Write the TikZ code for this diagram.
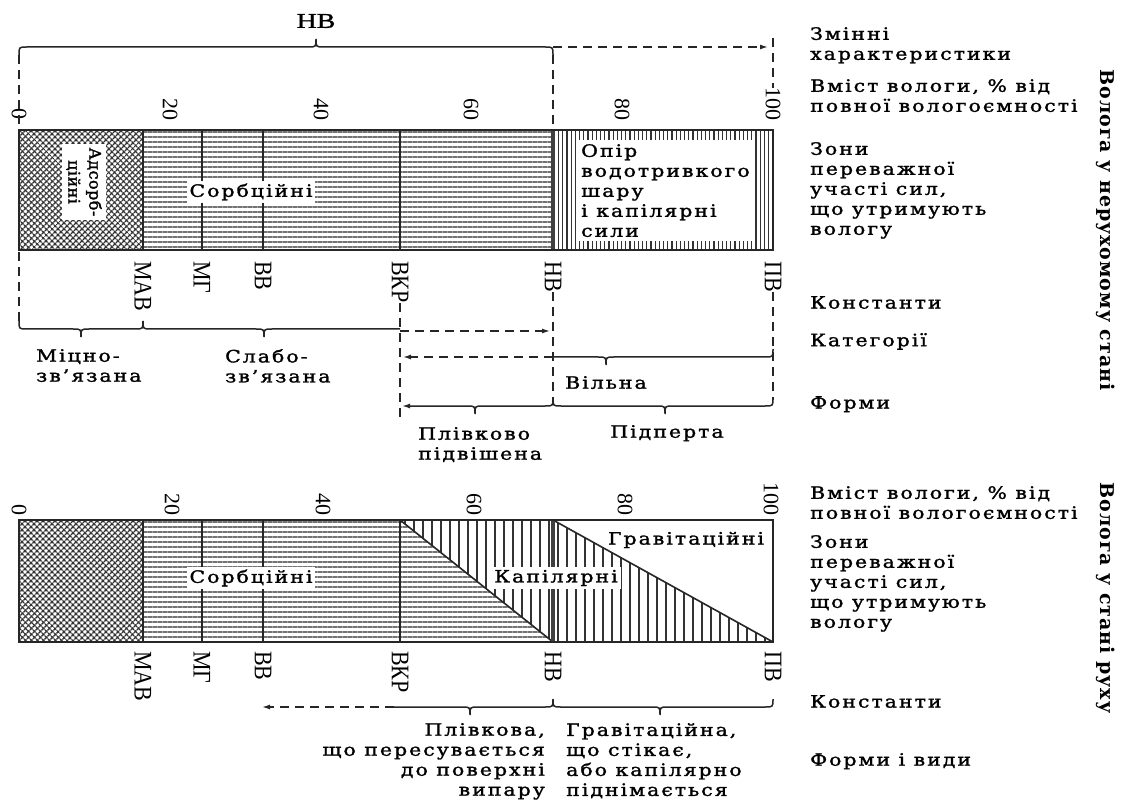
\documentclass[tikz,border=0pt]{standalone}
\usepackage{fontspec}
\usepackage{graphicx}
\setmainfont{DejaVu Serif}[FakeStretch=1.2, LetterSpace=12, FakeBold=1.6]
\newfontfamily\numf{Liberation Serif}
\newfontfamily\numwide{Liberation Serif}[FakeStretch=1.33, FakeBold=1.2]
\newfontfamily\rotf{DejaVu Serif}[LetterSpace=3, FakeBold=1.6]
\newfontfamily\sidef{DejaVu Serif}[LetterSpace=5]
\usetikzlibrary{patterns.meta,arrows.meta}
\tikzset{
  lbl/.style={font=\fontsize{17}{20}\selectfont, align=left, anchor=north west, inner sep=0pt},
  zonelbl/.style={font=\fontsize{17}{20}\selectfont, fill=white, inner sep=3pt, align=left},
  numlbl/.style={font=\numf\fontsize{22}{22}\selectfont, rotate=-90, anchor=east, inner sep=0pt},
  constlbl/.style={font=\numf\fontsize{22}{22}\selectfont, rotate=-90, anchor=west, inner sep=0pt},
  sidelbl/.style={font=\sidef\bfseries\fontsize{19}{19}\selectfont, rotate=-90, inner sep=0pt},
  frame/.style={line width=1.6pt, black!85},
  divline/.style={line width=1.6pt, black!85},
  thickdiv/.style={line width=3.5pt, black!75},
  dline/.style={line width=1.4pt, dash pattern=on 9pt off 6pt, black!85},
  brc/.style={line width=1.5pt, black!85},
  arr/.style={-{Latex[length=8pt,width=5pt]}},
  xhatch/.style={pattern={Lines[angle=45,distance=4pt,line width=1.4pt]}, pattern color=black!80},
  xhatchb/.style={pattern={Lines[angle=-45,distance=4pt,line width=1.4pt]}, pattern color=black!80},
  hlines/.style={pattern={Lines[angle=0,distance=5pt,line width=2pt]}, pattern color=black!55},
  vlinesd/.style={pattern={Lines[angle=90,distance=4.2pt,line width=1.2pt]}, pattern color=black!80},
  vliness/.style={pattern={Lines[angle=90,distance=9pt,line width=1.5pt]}, pattern color=black!80},
}
\newcommand\tallc[1]{\scalebox{1}[1.15]{#1}}
\newcommand\brdown[4]{% x1, xtip, x2, yflat : tip down, ends up
  \draw[brc] (#1,#4-8) .. controls (#1,#4) .. (#1+8,#4) -- (#2-8,#4) .. controls (#2,#4) .. (#2,#4+8) .. controls (#2,#4) .. (#2+8,#4) -- (#3-8,#4) .. controls (#3,#4) .. (#3,#4-8);}
\newcommand\brup[4]{% x1, xtip, x2, yflat : tip up, ends down
  \draw[brc] (#1,#4+8) .. controls (#1,#4) .. (#1+8,#4) -- (#2-8,#4) .. controls (#2,#4) .. (#2,#4-8) .. controls (#2,#4) .. (#2+8,#4) -- (#3-8,#4) .. controls (#3,#4) .. (#3,#4+8);}
\begin{document}
\begin{tikzpicture}[x=1pt,y=-1pt]
\useasboundingbox[fill=white] (0,0) rectangle (1125,802);

% ================= TOP BAR =================
\fill[xhatch] (19,130) rectangle (143,250);
\fill[xhatchb] (19,130) rectangle (143,250);
\fill[hlines] (143,130) rectangle (553,250);
\fill[vlinesd] (553,130) rectangle (773,250);
\draw[divline] (143,130) -- (143,250);
\draw[divline] (202,130) -- (202,250);
\draw[divline] (263,130) -- (263,250);
\draw[divline] (400,130) -- (400,250);
\draw[thickdiv] (553,130) -- (553,250);
\draw[frame] (19,130) rectangle (773,250);

\node[zonelbl, font=\rotf\fontsize{16}{21}\selectfont, rotate=-90, align=center, inner sep=4pt] (adsorb) at (84,182) {Адсорб-\\ційні};
\node[zonelbl] (sorbt) at (251,192) {Сорбційні};
\node[zonelbl, anchor=north west, inner sep=4pt] (opir) at (577,140) {Опір\\водотривкого\\шару\\і капілярні\\сили};

% scale numbers top
\node[numlbl, fill=white, inner sep=1pt] (t0) at (19,121) {0};
\node[numlbl] (t20) at (170,121) {20};
\node[numlbl] (t40) at (321,121) {40};
\node[numlbl] (t60) at (471,121) {60};
\node[numlbl] (t80) at (622,121) {80};
\node[numlbl] (t100) at (773,121) {100};

% top brace HB
\node[font=\numwide\fontsize{21}{21}\selectfont, inner sep=0pt] (hbtop) at (316,21) {НВ};
\brup{19}{316}{553}{47}
\draw[dline] (19,55) -- (19,130);
\draw[dline] (553,55) -- (553,130);
\coordinate (dtop) at (553,47);
\coordinate (dtopend) at (768,47);
\draw[dline, arr] (dtop) -- (dtopend);
\draw[dline] (773,38) -- (t100.west);

% constants top
\node[constlbl] (mav) at (143,261) {\tallc{МАВ}};
\node[constlbl] (mg) at (202,261) {\tallc{МГ}};
\node[constlbl] (vv) at (263,261) {\tallc{ВВ}};
\node[constlbl] (vkr) at (400,261) {\tallc{ВКР}};
\node[constlbl] (nv) at (553,261) {\tallc{НВ}};
\node[constlbl] (pv) at (773,261) {\tallc{ПВ}};

% dashed guides
\draw[dline] (19,252) -- (19,321);
\draw[dline] (vkr.east) -- (400,420);
\draw[dline] (nv.east) -- (553,400);
\draw[dline] (pv.east) -- (773,400);

% categories
\brdown{19}{81}{143}{329}
\draw[brc] (143,321) .. controls (143,329) .. (151,329) -- (256,329) .. controls (264,329) .. (264,337) .. controls (264,329) .. (272,329) -- (400,329);
\draw[dline, arr] (400,331) -- (550,331);
\draw[dline, arr] (553,357) -- (403,357);
\draw[brc] (553,357) -- (598,357) .. controls (606,357) .. (606,365) .. controls (606,357) .. (614,357) -- (765,357) .. controls (773,357) .. (773,349);

\node[lbl] (micno) at (36,349) {Міцно-\\зв’язана};
\node[lbl] (slabo) at (225,349) {Слабо-\\зв’язана};
\node[lbl] (vilna) at (565,376) {Вільна};

% forms
\draw[brc, {Latex[length=8pt,width=5pt]}-] (402,406) -- (467,406) .. controls (475,406) .. (475,414) .. controls (475,406) .. (483,406) -- (545,406) .. controls (553,406) .. (553,398);
\brdown{553}{665}{773}{406}
\node[lbl] (plivk) at (418,427) {Плівково\\підвішена};
\node[lbl, anchor=north] (pidp) at (667,425) {Підперта};

% right labels top
\node[lbl] (zminni) at (810,27) {Змінні\\характеристики};
\node[lbl] (vmist1) at (810,79) {Вміст вологи, \% від\\повної вологоємності};
\node[lbl] (zony1) at (810,142) {Зони\\переважної\\участі сил,\\що утримують\\вологу};
\node[lbl] (konst1) at (810,296) {Константи};
\node[lbl] (kateg) at (810,333) {Категорії};
\node[lbl] (formy) at (810,396) {Форми};
\node[sidelbl] (side1) at (1106,230) {Волога у нерухомому стані};

% ================= LOWER BAR =================
\fill[xhatch] (19,520) rectangle (143,642);
\fill[xhatchb] (19,520) rectangle (143,642);
\fill[hlines] (143,520) -- (400,520) -- (553,642) -- (143,642) -- cycle;
\fill[vliness] (400,520) -- (553,520) -- (553,642) -- cycle;
\fill[vliness] (553,520) -- (773,642) -- (553,642) -- cycle;
\draw[divline] (143,520) -- (143,642);
\draw[divline] (202,520) -- (202,642);
\draw[divline] (263,520) -- (263,642);
\draw[divline] (400,520) -- (400,642);
\draw[divline] (400,520) -- (553,642);
\draw[divline] (553,520) -- (773,642);
\draw[thickdiv] (553,520) -- (553,642);
\draw[frame] (19,520) rectangle (773,642);

\node[zonelbl] (sorbb) at (251,578) {Сорбційні};
\node[zonelbl] (kapil) at (556,578) {Капілярні};
\node[zonelbl, inner sep=1pt] (grav) at (686,540) {Гравітаційні};

\node[numlbl] (b0) at (19,516) {0};
\node[numlbl] (b20) at (172,516) {20};
\node[numlbl] (b40) at (323,516) {40};
\node[numlbl] (b60) at (474,516) {60};
\node[numlbl] (b80) at (625,516) {80};
\node[numlbl] (b100) at (771,516) {100};

\node[constlbl] (mavb) at (143,651) {\tallc{МАВ}};
\node[constlbl] (mgb) at (202,651) {\tallc{МГ}};
\node[constlbl] (vvb) at (263,651) {\tallc{ВВ}};
\node[constlbl] (vkrb) at (400,651) {\tallc{ВКР}};
\node[constlbl] (nvb) at (553,651) {\tallc{НВ}};
\node[constlbl] (pvb) at (773,651) {\tallc{ПВ}};

\draw[dline, arr] (394,707) -- (262,707);
\draw[brc] (394,707) -- (462,707) .. controls (470,707) .. (470,715) .. controls (470,707) .. (478,707) -- (545,707) .. controls (553,707) .. (553,699);
\brdown{553}{660}{773}{707}

\node[lbl, align=right, anchor=north east] (plivb) at (545,723) {Плівкова,\\що пересувається\\до поверхні\\випару};
\node[lbl] (gravb) at (566,723) {Гравітаційна,\\що стікає,\\або капілярно\\піднімається};

\node[lbl] (vmist2) at (810,486) {Вміст вологи, \% від\\повної вологоємності};
\node[lbl] (zony2) at (810,535) {Зони\\переважної\\участі сил,\\що утримують\\вологу};
\node[lbl] (konst2) at (810,695) {Константи};
\node[lbl] (formy2) at (810,753) {Форми і види};
\node[sidelbl] (side2) at (1106,598) {Волога у стані руху};
\end{tikzpicture}
\end{document}
